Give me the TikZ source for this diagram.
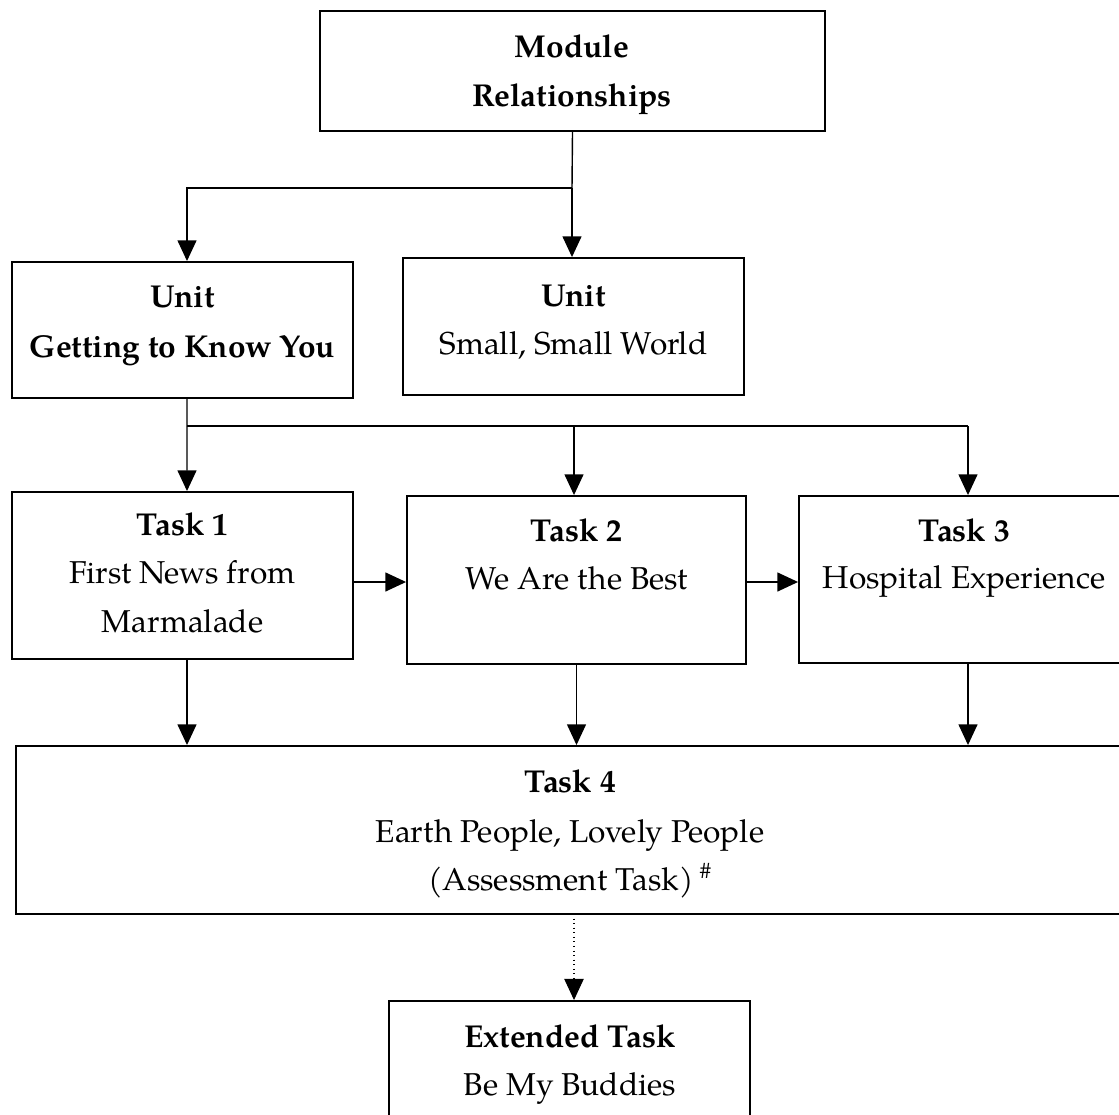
\documentclass[tikz,border=0pt]{standalone}
\usepackage{fontspec}
\setmainfont{TeX Gyre Pagella}
\usetikzlibrary{arrows.meta}
\begin{document}
\begin{tikzpicture}[x=0.02cm,y=-0.02cm,
  box/.style={draw, line width=1.1pt, inner sep=0pt},
  lbl/.style={anchor=base, inner sep=0pt, font=\fontsize{18pt}{22pt}\selectfont},
  ttl/.style={anchor=base, inner sep=0pt, font=\fontsize{18pt}{22pt}\selectfont\bfseries},
  ln/.style={line width=0.8pt},
  arr/.style={line width=0.8pt, -{Triangle[length=11.8pt,width=10.8pt]}},
  dotarr/.style={line width=0.6pt, dotted, -{Triangle[length=12pt,width=11pt]}}]
\useasboundingbox (0,0) rectangle (1119,1115);
\clip (0,0) rectangle (1119,1115);

% boxes
\node[box, minimum width=10.1cm, minimum height=2.4cm] (mod) at (572.5,71) {};
\node[box, minimum width=6.82cm, minimum height=2.72cm] (u1) at (182.5,330) {};
\node[box, minimum width=6.82cm, minimum height=2.74cm] (u2) at (573.5,326.5) {};
\node[box, minimum width=6.82cm, minimum height=3.34cm] (t1) at (182.5,575.5) {};
\node[box, minimum width=6.78cm, minimum height=3.36cm] (t2) at (576.5,580) {};
\node[box, minimum width=6.62cm, minimum height=3.34cm] (t3) at (964.5,579.5) {};
\node[box, minimum width=22.16cm, minimum height=3.36cm] (t4) at (570,830) {};
\node[box, minimum width=7.22cm, minimum height=3.36cm] (ext) at (569.5,1085) {};

% texts
\node[ttl] (modA) at (572,58) {Module};
\node[ttl] (modB) at (572,107) {Relationships};
\node[ttl] (u1A) at (182.5,307) {Unit};
\node[ttl] (u1B) at (182.5,357) {Getting to Know You};
\node[ttl] (u2A) at (573.5,306) {Unit};
\node[lbl] (u2B) at (573.5,354) {Small, Small World};
\node[ttl] (t1A) at (182.5,535) {Task 1};
\node[lbl] (t1B) at (182.5,583) {First News from};
\node[lbl] (t1C) at (182.5,632) {Marmalade};
\node[ttl] (t2A) at (576.5,541) {Task 2};
\node[lbl] (t2B) at (576.5,589) {We Are the Best};
\node[ttl] (t3A) at (964,541) {Task 3};
\node[lbl] (t3B) at (964,588) {Hospital Experience};
\node[ttl] (t4A) at (570,792) {Task 4};
\node[lbl] (t4B) at (570,842) {Earth People, Lovely People};
\node[lbl] (t4C) at (570,890) {(Assessment Task)\hspace{0.2em}\textsuperscript{\#}};
\node[ttl] (extA) at (570,1047) {Extended Task};
\node[lbl] (extB) at (570,1095) {Be My Buddies};

% connectors
\coordinate (j1) at (572,188);
\coordinate (j2) at (187,426);
\draw[ln] (mod.south) -- (j1);
\draw[arr] (j1) -- (j1 |- u2.north);
\draw[arr] (j1) -| ([xshift=0.09cm]u1.north);
\draw[ln] ([xshift=0.09cm]u1.south) -- (j2);
\draw[arr] (j2) -- ([xshift=0.09cm]t1.north);
\draw[ln] (j2) -- (968,426) coordinate (j3);
\draw[arr] (j3) -- (j3 |- t3.north);
\draw[arr] (574,426) coordinate (j4) -- (j4 |- t2.north);
\draw[arr] (t1.east |- 0,582) -- (t2.west |- 0,582);
\draw[arr] (t2.east |- 0,582) -- (t3.west |- 0,582);
\draw[arr] ([xshift=0.09cm]t1.south) -- ([xshift=0.09cm]t1.south |- t4.north);
\draw[arr] (t2.south) -- (t2.south |- t4.north);
\draw[arr] (j3 |- t3.south) -- (j3 |- t4.north);
\draw[dotarr] (574,914) coordinate (j5) -- (j5 |- ext.north);
\end{tikzpicture}
\end{document}
